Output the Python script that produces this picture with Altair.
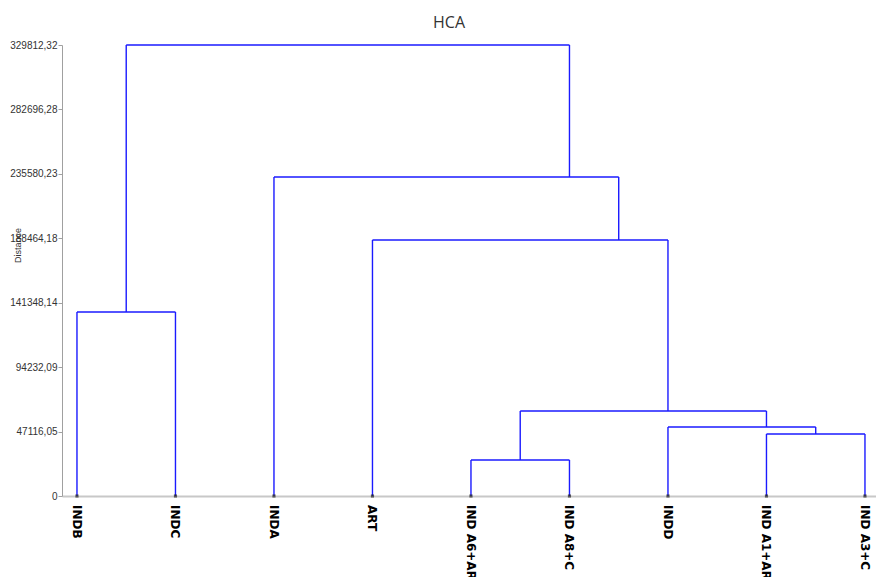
import altair as alt
import pandas as pd

leaves = ["INDB", "INDC", "INDA", "ART", "IND A6+ART", "IND A8+C", "INDD", "IND A1+ART", "IND A3+C"]
# merges: (child a, child b, height); node ids 0-8 are leaves, 9+ are clusters in order
merge_a = [0, 4, 7, 6, 10, 3, 2, 9]
merge_b = [1, 5, 8, 11, 12, 13, 14, 15]
merge_h = [134560, 26330, 45340, 50460, 62160, 187210, 233280, 329812.32]
tick_values = [0, 47116.05, 94232.09, 141348.14, 188464.18, 235580.23, 282696.28, 329812.32]

# build dendrogram segments from the merge table
n = len(leaves)
members = {i: [i] for i in range(n)}
height = {i: 0.0 for i in range(n)}
segs = []
for k, (a, b, h) in enumerate(zip(merge_a, merge_b, merge_h)):
    node = n + k
    members[node] = members[a] + members[b]
    height[node] = h
    xa = sum(members[a]) / len(members[a])
    xb = sum(members[b]) / len(members[b])
    segs.append({"x": xa, "x2": xb, "y": h, "y2": h})
    segs.append({"x": xa, "x2": xa, "y": height[a], "y2": h})
    segs.append({"x": xb, "x2": xb, "y": height[b], "y2": h})
seg_df = pd.DataFrame(segs)
leaf_df = pd.DataFrame({"pos": list(range(n)), "label": leaves, "zero": [0] * n})

xscale = alt.Scale(domain=[-0.152, 8.112], nice=False, zero=False)
yscale = alt.Scale(domain=[0, 329812.32], nice=False)

label_expr = "datum.value == 0 ? '0' : replace(format(datum.value, '.2f'), '.', ',')"

lines = alt.Chart(seg_df).mark_rule(color="#1a1aff", strokeWidth=1.4).encode(
    x=alt.X("x:Q", scale=xscale,
            axis=alt.Axis(labels=False, ticks=False, grid=False, title=None,
                          domainColor="#c8c8c8", domainWidth=2)),
    x2="x2:Q",
    y=alt.Y("y:Q", scale=yscale,
            axis=alt.Axis(values=tick_values, labelExpr=label_expr, grid=False,
                          title="Distance", titleFontSize=9, titleFontWeight="normal",
                          titleColor="#333333", titleFont="Liberation Sans",
                          titleX=-40, titleY=200, titleAngle=270,
                          labelFontSize=10, labelColor="#333333", labelFont="Liberation Sans",
                          tickSize=4, tickColor="#a0a0a0", domainColor="#a0a0a0",
                          labelPadding=1)),
    y2="y2:Q",
)

dots = alt.Chart(leaf_df).mark_square(color="#222222", size=10).encode(
    x=alt.X("pos:Q", scale=xscale),
    y=alt.Y("zero:Q", scale=yscale),
)

labels = alt.Chart(leaf_df).mark_text(
    angle=90, align="left", baseline="middle", dx=9, fontSize=12,
    fontWeight="bold", font="DejaVu Sans", color="#000000",
).encode(
    x=alt.X("pos:Q", scale=xscale),
    y=alt.Y("zero:Q", scale=yscale),
    text="label:N",
)

chart = (lines + dots + labels).properties(
    width=814,
    height=451,
    title=alt.TitleParams("HCA", fontSize=16, fontWeight="normal", color="#333333",
                          font="Open Sans", dx=-20, offset=9),
    autosize=alt.AutoSizeParams(type="none"),
    padding={"left": 54, "top": 37, "right": 0, "bottom": 81},
).configure_view(stroke=None)

chart.save("out.html", embed_options={"renderer": "svg", "actions": False})
